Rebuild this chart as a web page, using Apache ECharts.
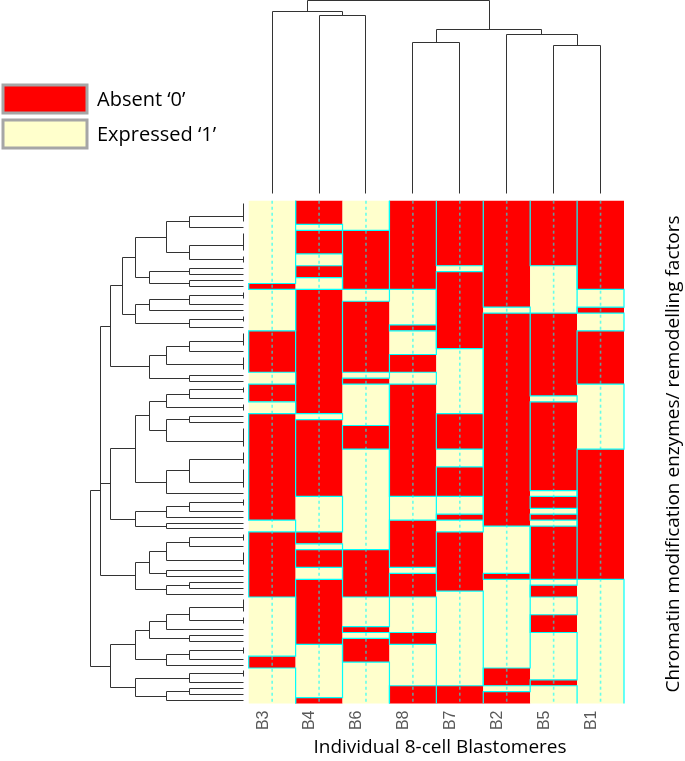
<!DOCTYPE html>
<html>
<head>
<meta charset="utf-8">
<script src="https://cdn.jsdelivr.net/npm/echarts@6/dist/echarts.min.js"></script>
<style>html,body{margin:0;padding:0;background:#fff}#c{width:685px;height:761px}</style>
</head>
<body>
<div id="c"></div>
<script>
// ---- data: columns (blastomeres) in dendrogram order, rows top->bottom; 0 = Absent, 1 = Expressed
const columns = ['B3','B4','B6','B8','B7','B2','B5','B1'];
const legendLabels = ['Absent \u20180\u2019', 'Expressed \u20181\u2019'];
const xTitle = 'Individual 8-cell Blastomeres';
const yTitle = 'Chromatin modification enzymes/ remodelling factors';

const B3 = [1,1,1,1,1,1,1,1,1,1, 1,1,1,1,0,1,1,1,1,1, 1,1,0,0,0,0,0,0,0,1, 1,0,0,0,1,1,0,0,0,0,
            0,0,0,0,0,0,0,0,0,0, 0,0,0,0,1,1,0,0,0,0, 0,0,0,0,0,0,0,1,1,1, 1,1,1,1,1,1,1,0,0,1, 1,1,1,1,1];
const B4 = [0,0,0,0,1,0,0,0,0,1, 1,0,0,1,1,0,0,0,0,0, 0,0,0,0,0,0,0,0,0,0, 0,0,0,0,0,0,1,0,0,0,
            0,0,0,0,0,0,0,0,0,0, 1,1,1,1,1,1,0,0,1,0, 0,0,1,1,0,0,0,0,0,0, 0,0,0,0,0,1,1,1,1,1, 1,1,1,1,0];
const B6 = [1,1,1,1,1,0,0,0,0,0, 0,0,0,0,0,1,1,0,0,0, 0,0,0,0,0,0,0,0,0,1, 0,1,1,1,1,1,1,1,0,0,
            0,0,1,1,1,1,1,1,1,1, 1,1,1,1,1,1,1,1,1,0, 0,0,0,0,0,0,0,1,1,1, 1,1,0,1,0,0,0,0,1,1, 1,1,1,1,1];
const B8 = [0,0,0,0,0,0,0,0,0,0, 0,0,0,0,0,1,1,1,1,1, 1,0,1,1,1,1,0,0,0,1, 1,0,0,0,0,0,0,0,0,0,
            0,0,0,0,0,0,0,0,0,0, 1,1,1,1,0,0,0,0,0,0, 0,0,1,0,0,0,0,1,1,1, 1,1,1,0,0,1,1,1,1,1, 1,1,0,0,0];
const B7 = [0,0,0,0,0,0,0,0,0,0, 0,1,0,0,0,0,0,0,0,0, 0,0,0,0,0,1,1,1,1,1, 1,1,1,1,1,1,0,0,0,0,
            0,0,1,1,1,0,0,0,0,0, 1,1,1,0,1,1,0,0,0,0, 0,0,0,0,0,0,1,1,1,1, 1,1,1,1,1,1,1,1,1,1, 1,1,0,0,0];
const B2 = [0,0,0,0,0,0,0,0,0,0, 0,0,0,0,0,0,0,0,1,0, 0,0,0,0,0,0,0,0,0,0, 0,0,0,0,0,0,0,0,0,0,
            0,0,0,0,0,0,0,0,0,0, 0,0,0,0,0,1,1,1,1,1, 1,1,1,0,1,1,1,1,1,1, 1,1,1,1,1,1,1,1,1,0, 0,0,1,0,0];
const B5 = [0,0,0,0,0,0,0,0,0,0, 0,1,1,1,1,1,1,1,1,0, 0,0,0,0,0,0,0,0,0,0, 0,0,0,1,0,0,0,0,0,0,
            0,0,0,0,0,0,0,0,0,1, 0,0,1,0,1,0,0,0,0,0, 0,0,0,0,1,0,0,1,1,1, 0,0,0,1,1,1,1,1,1,1, 1,0,1,1,1];
const B1 = [0,0,0,0,0,0,0,0,0,0, 0,0,0,0,0,1,1,1,0,1, 1,1,0,0,0,0,0,0,0,0, 0,1,1,1,1,1,1,1,1,1,
            1,1,0,0,0,0,0,0,0,0, 0,0,0,0,0,0,0,0,0,0, 0,0,0,0,1,1,1,1,1,1, 1,1,1,1,1,1,1,1,1,1, 1,1,1,1,1];

const colData = [B3,B4,B6,B8,B7,B2,B5,B1];
const nRows = B3.length;
const nCols = columns.length;
const RED = '#FF0000', YEL = '#FFFFCC', CYAN = '#00FFFF';

// ---- run-length blocks for cells
const blocks = [];
colData.forEach((col, c) => {
  let s = 0;
  for (let r = 1; r <= nRows; r++) {
    if (r === nRows || col[r] !== col[s]) { blocks.push([c, s, r, col[s]]); s = r; }
  }
});

// ---- ordered complete-linkage clustering (euclidean) for dendrograms
function cluster(vectors) {
  const n = vectors.length;
  const d = [];
  for (let i = 0; i < n; i++) { d[i] = []; for (let j = 0; j < n; j++) {
    let s = 0; for (let k = 0; k < vectors[i].length; k++) { const t = vectors[i][k]-vectors[j][k]; s += t*t; }
    d[i][j] = Math.sqrt(s); } }
  let cl = vectors.map((v, i) => ({m: [i], pos: i + 0.5, h: 0}));
  const segs = [];
  const link = (A, B) => { let mx = 0; A.m.forEach(a => B.m.forEach(b => { if (d[a][b] > mx) mx = d[a][b]; })); return mx; };
  while (cl.length > 1) {
    let best = 0, bd = Infinity;
    for (let k = 0; k < cl.length - 1; k++) { const D = link(cl[k], cl[k+1]); if (D < bd - 1e-9) { bd = D; best = k; } }
    const A = cl[best], B = cl[best+1];
    segs.push([A.h, A.pos, bd, B.pos, B.h]);
    cl.splice(best, 2, {m: A.m.concat(B.m), pos: (A.pos + B.pos) / 2, h: bd});
  }
  return {segs, root: cl[0].h};
}
const rowVecs = []; for (let r = 0; r < nRows; r++) rowVecs.push(colData.map(col => col[r]));
const rowTree = cluster(rowVecs);
const colTree = cluster(colData);

// ---- layout
const HL = 248.7, HT = 200.7, HW = 375.3, HH = 502.8;
const rowPx = 54;
const rowW = rowTree.root * rowPx;

const chart = echarts.init(document.getElementById('c'), null, {renderer: 'canvas'});
const crisp = v => Math.round(v - 0.5) + 0.5;
const FONT = '"Open Sans", Lato, sans-serif';

chart.setOption({
  animation: false,
  grid: [
    {left: HL, top: HT, width: HW, height: HH},
    {left: 243 - rowW, top: HT, width: rowW, height: HH},
    {left: HL, top: 0.5, width: HW, height: 192.5}
  ],
  xAxis: [
    {gridIndex: 0, type: 'value', min: 0, max: nCols, show: false},
    {gridIndex: 1, type: 'value', min: 0, max: rowTree.root, inverse: true, show: false},
    {gridIndex: 2, type: 'value', min: 0, max: nCols, show: false}
  ],
  yAxis: [
    {gridIndex: 0, type: 'value', min: 0, max: nRows, inverse: true, show: false},
    {gridIndex: 1, type: 'value', min: 0, max: nRows, inverse: true, show: false},
    {gridIndex: 2, type: 'value', min: 0, max: colTree.root, show: false}
  ],
  series: [
    { // cells
      type: 'custom', xAxisIndex: 0, yAxisIndex: 0, data: blocks, z: 1,
      renderItem: (p, api) => {
        const a = api.coord([api.value(0), api.value(1)]);
        const b = api.coord([api.value(0) + 1, api.value(2)]);
        return {type: 'rect', shape: {x: a[0], y: a[1], width: b[0]-a[0], height: b[1]-a[1]},
                style: {fill: api.value(3) ? YEL : RED}};
      }
    },
    { // dashed centre lines
      type: 'custom', xAxisIndex: 0, yAxisIndex: 0, data: columns.map((c, i) => [i]), z: 2,
      renderItem: (p, api) => {
        const a = api.coord([api.value(0) + 0.5, 0]);
        const b = api.coord([api.value(0) + 0.5, nRows]);
        return {type: 'line', shape: {x1: a[0], y1: a[1], x2: b[0], y2: b[1]},
                style: {stroke: 'rgba(0,255,255,0.6)', lineWidth: 1.6, lineDash: [3, 3]}};
      }
    },
    { // trace lines
      type: 'custom', xAxisIndex: 0, yAxisIndex: 0, data: columns.map((c, i) => [i]), z: 3,
      renderItem: (p, api) => {
        const c = api.value(0), col = colData[p.dataIndex];
        const pts = [api.coord([c + col[0], 0])];
        for (let r = 0; r < nRows; r++) {
          pts.push(api.coord([c + col[r], r + 1]));
          if (r + 1 < nRows && col[r + 1] !== col[r]) pts.push(api.coord([c + col[r + 1], r + 1]));
        }
        return {type: 'polyline', shape: {points: pts}, style: {stroke: CYAN, lineWidth: 1.2, fill: null}};
      }
    },
    { // column labels
      type: 'custom', xAxisIndex: 0, yAxisIndex: 0, data: columns.map((c, i) => [i]), z: 4,
      renderItem: (p, api) => {
        const a = api.coord([api.value(0) + 0.5, nRows]);
        return {type: 'text', x: a[0] - 9, y: a[1] + 7, rotation: Math.PI / 2,
                style: {text: columns[p.dataIndex], font: '16px "Liberation Sans", Arial, sans-serif',
                        fill: '#595959', align: 'right', verticalAlign: 'middle'}};
      }
    },
    { // row dendrogram
      type: 'custom', xAxisIndex: 1, yAxisIndex: 1, data: rowTree.segs, z: 2,
      renderItem: (p, api) => {
        const pts = [[api.value(0), api.value(1)], [api.value(2), api.value(1)],
                     [api.value(2), api.value(3)], [api.value(4), api.value(3)]]
          .map(q => { const t = api.coord(q); return [crisp(t[0]), crisp(t[1])]; });
        return {type: 'polyline', shape: {points: pts}, style: {stroke: '#333', lineWidth: 1, fill: null}};
      }
    },
    { // column dendrogram
      type: 'custom', xAxisIndex: 2, yAxisIndex: 2, data: colTree.segs, z: 2,
      renderItem: (p, api) => {
        const pts = [[api.value(1), api.value(0)], [api.value(1), api.value(2)],
                     [api.value(3), api.value(2)], [api.value(3), api.value(4)]]
          .map(q => { const t = api.coord(q); return [crisp(t[0]), crisp(t[1])]; });
        return {type: 'polyline', shape: {points: pts}, style: {stroke: '#333', lineWidth: 1, fill: null}};
      }
    }
  ],
  graphic: [
    {type: 'rect', shape: {x: 3, y: 85, width: 84, height: 28}, style: {fill: RED, stroke: '#A6A6A6', lineWidth: 3}},
    {type: 'rect', shape: {x: 3, y: 120, width: 84, height: 28}, style: {fill: YEL, stroke: '#A6A6A6', lineWidth: 3}},
    {type: 'text', x: 97, y: 100, style: {text: legendLabels[0], font: '20px ' + FONT, fill: '#000', verticalAlign: 'middle'}},
    {type: 'text', x: 97, y: 135, style: {text: legendLabels[1], font: '20px ' + FONT, fill: '#000', verticalAlign: 'middle'}},
    {type: 'text', x: 440, y: 748, style: {text: xTitle, font: '19px ' + FONT, fill: '#000', align: 'center', verticalAlign: 'middle'}},
    {type: 'text', x: 674, y: 454, rotation: Math.PI / 2, style: {text: yTitle, font: '19px ' + FONT, fill: '#000', align: 'center', verticalAlign: 'middle'}}
  ]
});
</script>
</body>
</html>
